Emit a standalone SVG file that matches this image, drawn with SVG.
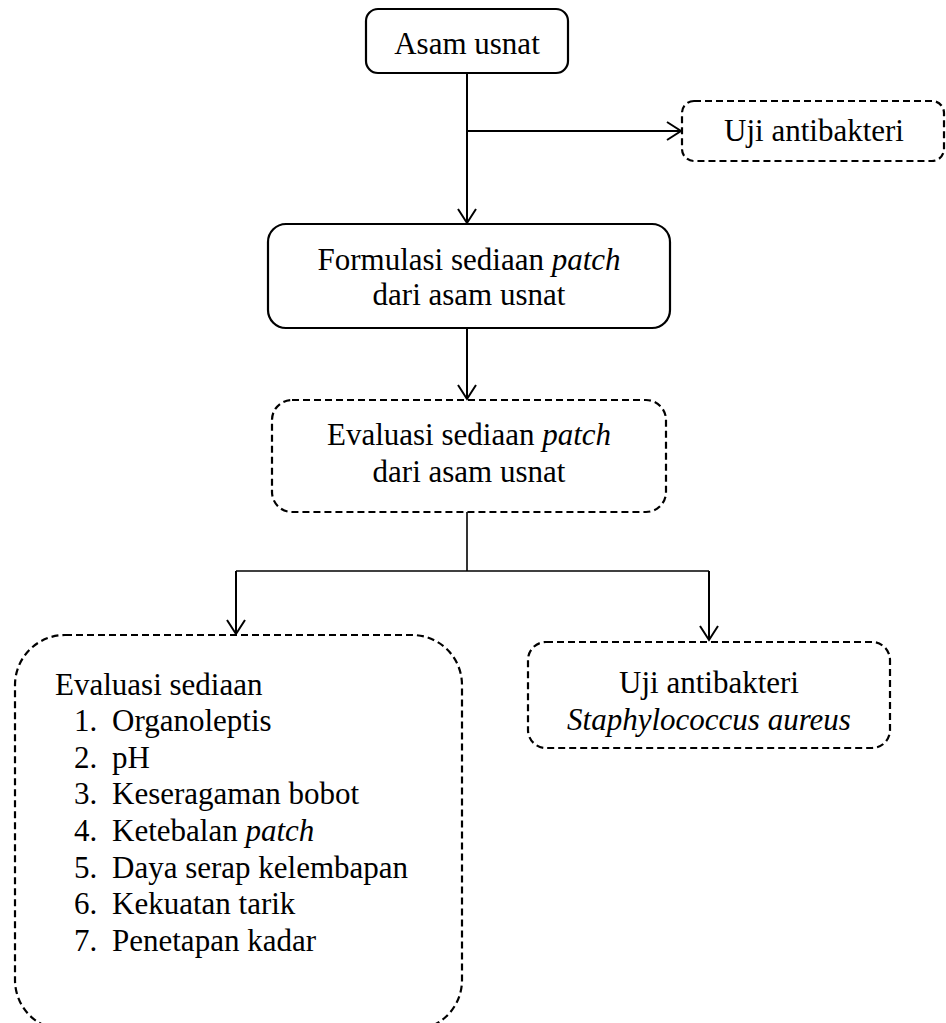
<svg xmlns="http://www.w3.org/2000/svg" width="946" height="1023" viewBox="0 0 946 1023">
<style>
.box{fill:none;stroke:#000;stroke-width:2.2}
.dash{fill:none;stroke:#000;stroke-width:2.2;stroke-dasharray:7,4}
.t{font-family:'Liberation Serif','DejaVu Serif',serif;font-size:31px;fill:#000}
.c{text-anchor:middle}
.ln{fill:none;stroke:#000;stroke-width:2}
.ln2{fill:none;stroke:#000;stroke-width:1.6}
</style>
<defs>
<marker id="ah" markerUnits="userSpaceOnUse" markerWidth="24" markerHeight="24" refX="15" refY="10" orient="auto" viewBox="0 0 24 24">
<path d="M1,1 L15,10 L1,19" fill="none" stroke="#000" stroke-width="2"/>
</marker>
</defs>
<g id="connectors">
<line class="ln" x1="467" y1="73" x2="467" y2="223" marker-end="url(#ah)"/>
<line class="ln" x1="467" y1="131" x2="681" y2="131" marker-end="url(#ah)"/>
<line class="ln" x1="467" y1="328" x2="467" y2="399" marker-end="url(#ah)"/>
<polyline class="ln2" points="467,512 467,571"/>
<polyline class="ln2" points="236,571 709,571"/>
<line class="ln" x1="236" y1="571" x2="236" y2="634" marker-end="url(#ah)"/>
<line class="ln" x1="709" y1="571" x2="709" y2="640" marker-end="url(#ah)"/>
</g>
<g font-family="Liberation Serif, DejaVu Serif, serif">
<g id="n1">
<rect class="box" x="366" y="9" width="202" height="64" rx="12"/>
<text class="t c" x="467" y="54">Asam usnat</text>
</g>
<g id="n2">
<rect class="dash" x="682" y="101" width="262" height="60" rx="12"/>
<text class="t c" x="814" y="141">Uji antibakteri</text>
</g>
<g id="n3">
<rect class="box" x="268" y="224" width="402" height="104" rx="18"/>
<text class="t c" x="469" y="270">Formulasi sediaan <tspan font-style="italic">patch</tspan></text>
<text class="t c" x="469" y="305">dari asam usnat</text>
</g>
<g id="n4">
<rect class="dash" x="272" y="400" width="394" height="112" rx="20"/>
<text class="t c" x="469" y="445">Evaluasi sediaan <tspan font-style="italic">patch</tspan></text>
<text class="t c" x="469" y="482">dari asam usnat</text>
</g>
<g id="n5">
<rect class="dash" x="15" y="635" width="447" height="395" rx="50"/>
<text class="t" x="55" y="695">Evaluasi sediaan</text>
<text class="t" x="74" y="731">1.</text><text class="t" x="112" y="731">Organoleptis</text>
<text class="t" x="74" y="768">2.</text><text class="t" x="112" y="768">pH</text>
<text class="t" x="74" y="804">3.</text><text class="t" x="112" y="804">Keseragaman bobot</text>
<text class="t" x="74" y="841">4.</text><text class="t" x="112" y="841">Ketebalan <tspan font-style="italic">patch</tspan></text>
<text class="t" x="74" y="878">5.</text><text class="t" x="112" y="878">Daya serap kelembapan</text>
<text class="t" x="74" y="914">6.</text><text class="t" x="112" y="914">Kekuatan tarik</text>
<text class="t" x="74" y="951">7.</text><text class="t" x="112" y="951">Penetapan kadar</text>
</g>
<g id="n6">
<rect class="dash" x="528" y="642" width="362" height="106" rx="18"/>
<text class="t c" x="709" y="693">Uji antibakteri</text>
<text class="t c" x="709" y="730" font-style="italic">Staphylococcus aureus</text>
</g>
</g>
</svg>
